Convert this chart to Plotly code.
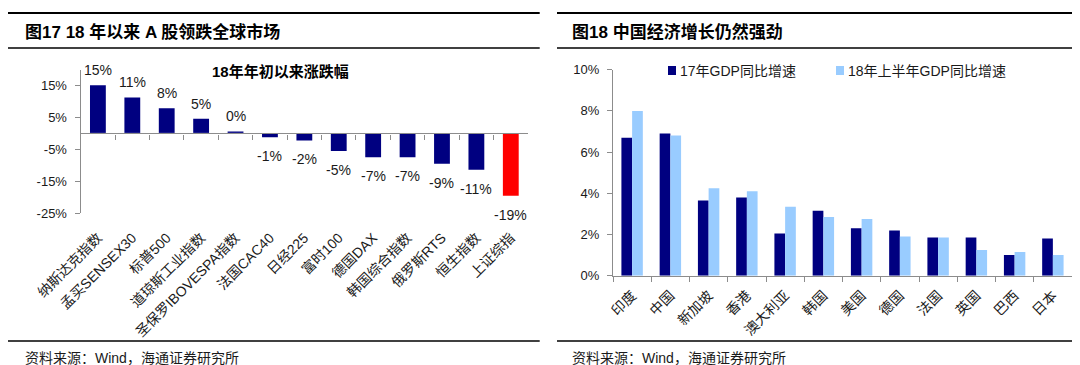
import plotly.graph_objects as go

W, H = 1080, 365

# ---------------- data ----------------
mkt_names = ["纳斯达克指数", "孟买SENSEX30", "标普500", "道琼斯工业指数", "圣保罗IBOVESPA指数",
             "法国CAC40", "日经225", "富时100", "德国DAX", "韩国综合指数", "俄罗斯RTS", "恒生指数", "上证综指"]
mkt_chg = [15.1, 11.3, 7.9, 4.6, 0.6, -1.2, -2.2, -5.5, -7.5, -7.5, -9.5, -11.4, -19.6]
mkt_labels = ["15%", "11%", "8%", "5%", "0%", "-1%", "-2%", "-5%", "-7%", "-7%", "-9%", "-11%", "-19%"]
left_yticks = [-25, -15, -5, 5, 15]
left_yticklabels = ["-25%", "-15%", "-5%", "5%", "15%"]

countries = ["印度", "中国", "新加坡", "香港", "澳大利亚", "韩国", "美国", "德国", "法国", "英国", "巴西", "日本"]
gdp_2017 = [6.7, 6.9, 3.65, 3.8, 2.05, 3.15, 2.3, 2.2, 1.85, 1.85, 1.0, 1.8]
gdp_2018h1 = [8.0, 6.8, 4.25, 4.1, 3.35, 2.85, 2.75, 1.9, 1.85, 1.25, 1.15, 1.0]
right_yticks = [0, 2, 4, 6, 8, 10]
right_yticklabels = ["0%", "2%", "4%", "6%", "8%", "10%"]
series_names = ["17年GDP同比增速", "18年上半年GDP同比增速"]

NAVY = "#000080"
LIGHT = "#99CCFF"
RED = "#FF0000"
AXIS = "#8C8C8C"
TXT = "#1a1a1a"
FONT = "Liberation Sans, Arial, Noto Sans CJK SC, sans-serif"


def px_x(p):
    return p / W


def px_y(p):
    return (H - p) / H


fig = go.Figure()

# ---------------- left chart ----------------
bar_colors = [NAVY] * (len(mkt_names) - 1) + [RED]
fig.add_trace(go.Bar(
    x=mkt_names, y=mkt_chg, marker=dict(color=bar_colors, line=dict(width=0)),
    width=0.46, offset=-0.23, xaxis="x", yaxis="y", showlegend=False, hoverinfo="x+y",
))
# invisible trace to host the zero-line axis
fig.add_trace(go.Bar(x=mkt_names, y=[0] * len(mkt_names), xaxis="x3", yaxis="y",
                     showlegend=False, hoverinfo="skip", marker=dict(color="rgba(0,0,0,0)")))

# ---------------- right chart ----------------
fig.add_trace(go.Bar(x=countries, y=gdp_2017, name=series_names[0], marker=dict(color=NAVY, line=dict(width=0)),
                     width=0.28, offset=-0.28, xaxis="x2", yaxis="y2", showlegend=False))
fig.add_trace(go.Bar(x=countries, y=gdp_2018h1, name=series_names[1], marker=dict(color=LIGHT, line=dict(width=0)),
                     width=0.28, offset=0.0, xaxis="x2", yaxis="y2", showlegend=False))

# domains
lx0, lx1 = px_x(72.7), px_x(520)
ly0, ly1 = px_y(205), px_y(61.7)
ymin, ymax = -25, 20
zero_pos = ly0 + (0 - ymin) / (ymax - ymin) * (ly1 - ly0)

rx0, rx1 = px_x(605), px_x(1064)
ry0, ry1 = px_y(267.7), px_y(61.7)

fig.update_layout(
    width=W, height=H, margin=dict(l=0, r=0, t=0, b=0, autoexpand=False),
    paper_bgcolor="white", plot_bgcolor="white",
    barmode="overlay",
    font=dict(family=FONT, color=TXT, size=13),
    xaxis=dict(domain=[lx0, lx1], anchor="y", type="category", showline=False, ticks="",
               tickangle=-45, tickfont=dict(size=14, color=TXT), showgrid=False, zeroline=False,
               ticklabelstandoff=13, range=[-0.5, len(mkt_names) - 0.5], automargin=False),
    xaxis3=dict(domain=[lx0, lx1], overlaying="x", anchor="free", position=zero_pos, type="category",
                showline=True, linecolor=AXIS, linewidth=1.3, ticks="outside", ticklen=5, tickcolor=AXIS,
                tickson="boundaries", showticklabels=False, showgrid=False, zeroline=False,
                range=[-0.5, len(mkt_names) - 0.5], automargin=False),
    yaxis=dict(domain=[ly0, ly1], anchor="x", range=[ymin, ymax], tickvals=left_yticks,
               ticktext=left_yticklabels, showline=True, linecolor=AXIS, linewidth=1.3,
               ticks="outside", ticklen=5, tickcolor=AXIS, showgrid=False, zeroline=False,
               tickfont=dict(size=13, color=TXT), ticklabelstandoff=5, automargin=False),
    xaxis2=dict(domain=[rx0, rx1], anchor="y2", type="category", showline=True, linecolor=AXIS,
                linewidth=1.3, ticks="outside", ticklen=5, tickcolor=AXIS, tickson="boundaries",
                tickangle=-45, tickfont=dict(size=14, color=TXT), showgrid=False, zeroline=False,
                ticklabelstandoff=5, range=[-0.5, len(countries) - 0.5], automargin=False),
    yaxis2=dict(domain=[ry0, ry1], anchor="x2", range=[0, 10], tickvals=right_yticks,
                ticktext=right_yticklabels,
                showline=True, linecolor=AXIS, linewidth=1.3, ticks="outside", ticklen=5, tickcolor=AXIS,
                showgrid=False, zeroline=False, tickfont=dict(size=13, color=TXT), ticklabelstandoff=5,
                automargin=False),
)

annotations = []
# data labels (left)
for name, v, lab in zip(mkt_names, mkt_chg, mkt_labels):
    annotations.append(dict(x=name, y=v, xref="x", yref="y", text=lab, showarrow=False,
                            font=dict(size=14, color=TXT), yanchor="middle",
                            yshift=15 if v >= 0 else -19))

# titles
annotations.append(dict(x=px_x(15), y=px_y(24), xref="paper", yref="paper", xanchor="left", yanchor="middle",
                        text="<b>图17 18 年以来 A 股领跌全球市场</b>", showarrow=False,
                        font=dict(size=17, color="#000")))
annotations.append(dict(x=px_x(562), y=px_y(24), xref="paper", yref="paper", xanchor="left", yanchor="middle",
                        text="<b>图18 中国经济增长仍然强劲</b>", showarrow=False,
                        font=dict(size=17, color="#000")))
annotations.append(dict(x=px_x(272), y=px_y(63.5), xref="paper", yref="paper", xanchor="center",
                        yanchor="middle", text="<b>18年年初以来涨跌幅</b>", showarrow=False,
                        font=dict(size=15, color="#000")))
# sources
for sx in (15, 562):
    annotations.append(dict(x=px_x(sx), y=px_y(350), xref="paper", yref="paper", xanchor="left",
                            yanchor="middle", text="资料来源：Wind，海通证券研究所", showarrow=False,
                            font=dict(size=14, color=TXT)))
# legend text (right)
for lx, nm in zip((670, 838), series_names):
    annotations.append(dict(x=px_x(lx), y=px_y(62.5), xref="paper", yref="paper", xanchor="left",
                            yanchor="middle", text=nm, showarrow=False, font=dict(size=14, color=TXT)))

shapes = []
# rules
for (x0, x1) in ((0, 531.7), (549, 1080)):
    shapes.append(dict(type="line", xref="paper", yref="paper", x0=px_x(x0), x1=px_x(x1),
                       y0=px_y(5), y1=px_y(5), line=dict(color="#000", width=2)))
    shapes.append(dict(type="line", xref="paper", yref="paper", x0=px_x(x0), x1=px_x(x1),
                       y0=px_y(40), y1=px_y(40), line=dict(color="#000", width=1.6)))
    shapes.append(dict(type="line", xref="paper", yref="paper", x0=px_x(x0), x1=px_x(x1),
                       y0=px_y(333), y1=px_y(333), line=dict(color="#000", width=1.6)))
# legend squares
for sx, col in ((660, NAVY), (828, LIGHT)):
    shapes.append(dict(type="rect", xref="paper", yref="paper", x0=px_x(sx), x1=px_x(sx + 8),
                       y0=px_y(67), y1=px_y(58), fillcolor=col, line=dict(width=0)))

fig.update_layout(annotations=annotations, shapes=shapes)
fig.write_html("out.html")
